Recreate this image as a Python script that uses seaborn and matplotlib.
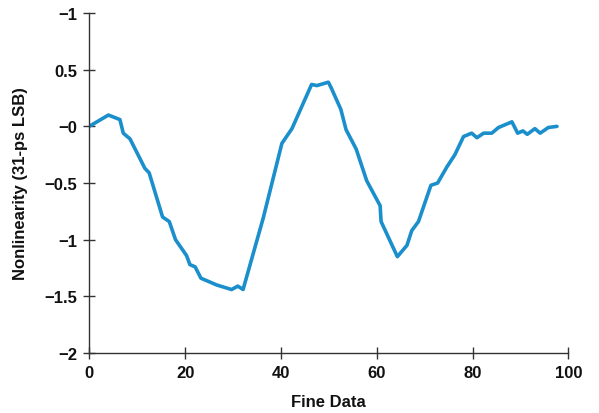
import numpy as np
import pandas as pd
import seaborn as sns
import matplotlib.pyplot as plt
from matplotlib import font_manager

# values
fine_data = [0, 4.0, 6.4, 7.1, 8.5, 11.6, 12.5, 15.3, 16.7, 18.0, 20.3, 21.0, 22.1,
             23.3, 26.6, 29.7, 31.0, 32.1, 36.3, 40.2, 42.3, 46.4, 47.5, 49.9, 50.6,
             50.6, 52.5, 53.6, 55.7, 57.9, 60.7, 60.9, 64.3, 66.3, 67.3, 68.7, 71.3,
             72.7, 74.6, 76.3, 78.1, 79.8, 80.9, 82.3, 84.0, 85.4, 88.2, 89.4, 90.5,
             91.4, 93.0, 94.1, 95.8, 97.6]
nonlin = [0.0, 0.10, 0.06, -0.06, -0.11, -0.37, -0.41, -0.80, -0.84, -1.00, -1.14,
          -1.22, -1.24, -1.34, -1.40, -1.44, -1.41, -1.44, -0.81, -0.15, -0.02, 0.37,
          0.36, 0.39, 0.36, 0.30, 0.15, -0.03, -0.20, -0.48, -0.70, -0.84, -1.15,
          -1.05, -0.92, -0.84, -0.52, -0.50, -0.36, -0.25, -0.09, -0.06, -0.10, -0.06,
          -0.06, -0.01, 0.04, -0.06, -0.04, -0.07, -0.02, -0.06, -0.01, 0.0]

yticks = [-2, -1.5, -1, -0.5, 0, 0.5, 1]
ytick_labels = ['\u22122', '\u22121.5', '\u22121', '\u22120.5', '\u22120', '0.5', '\u22121']
xticks = [0, 20, 40, 60, 80, 100]

df = pd.DataFrame({'Fine Data': fine_data, 'Nonlinearity': nonlin})

sns.set_style('white')
names = {f.name for f in font_manager.fontManager.ttflist}
if 'Liberation Sans Narrow' in names:
    plt.rcParams['font.family'] = ['Liberation Sans Narrow', 'DejaVu Sans']
    fs = 13
else:
    plt.rcParams['font.family'] = ['Liberation Sans', 'DejaVu Sans']
    fs = 12

fig = plt.figure(figsize=(5.99, 4.14), dpi=100)
ax = fig.add_axes([0.149, 0.145, 0.800, 0.821])

sns.lineplot(data=df, x='Fine Data', y='Nonlinearity', sort=False,
             color='#1b8fcb', linewidth=2.6, ax=ax)

ax.set_xlim(0, 100)
ax.set_ylim(-2, 1)
ax.set_xticks(xticks)
ax.set_xticklabels([str(t) for t in xticks])
ax.set_yticks(yticks)
ax.set_yticklabels(ytick_labels)

for s in ['top', 'right']:
    ax.spines[s].set_visible(False)
for s in ['left', 'bottom']:
    ax.spines[s].set_color('#333333')
    ax.spines[s].set_linewidth(1.0)

ax.tick_params(axis='both', direction='inout', length=9, width=1, color='#333333',
               labelsize=fs, labelcolor='#111111', bottom=True, left=True, pad=4)
for lab in ax.get_xticklabels() + ax.get_yticklabels():
    lab.set_fontweight('bold')

ax.set_xlabel('Fine Data', fontsize=fs, fontweight='bold', labelpad=10, color='#111111')
ax.set_ylabel('Nonlinearity (31-ps LSB)', fontsize=fs, fontweight='bold', labelpad=12,
              color='#111111')

plt.savefig('out.png', dpi=100)
